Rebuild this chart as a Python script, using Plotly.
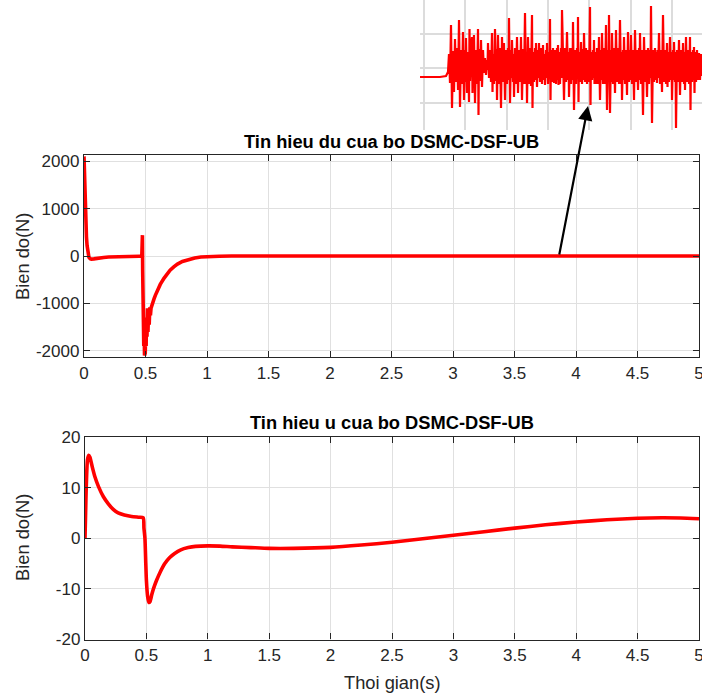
import plotly.graph_objects as go

# ---------------- data ----------------
du_t = [0, 0.005, 0.01, 0.015, 0.02, 0.025, 0.03, 0.035, 0.04, 0.05, 0.06, 0.08, 0.1, 0.13, 0.16,
        0.2, 0.25, 0.3, 0.35, 0.4, 0.45, 0.47, 0.472, 0.475, 0.477, 0.48, 0.483, 0.486, 0.489,
        0.492, 0.495, 0.498, 0.501, 0.505, 0.508, 0.512, 0.516, 0.52, 0.525, 0.53, 0.535, 0.54,
        0.545, 0.55, 0.56, 0.57, 0.58, 0.6, 0.62, 0.65, 0.68, 0.7, 0.73, 0.76, 0.8, 0.85, 0.9,
        0.95, 1.0, 1.1, 1.2, 1.5, 2, 3, 4, 5]
du_v = [2100, 1500, 1000, 650, 400, 220, 100, 20, -25, -55, -65, -60, -50, -38, -30,
        -22, -15, -10, -7, -5, -4, -4, 100, 440, -300, -1500, -900, -1900, -1400,
        -2100, -1700, -2050, -1500, -1900, -1300, -1700, -1100, -1600, -1150, -1450, -1080, -1250,
        -1100, -1050, -980, -900, -830, -700, -600, -470, -360, -300, -230, -170, -115, -70, -40,
        -22, -12, -4, -1, 0, 0, 0, 0, 0]

u_t = [0, 0.005, 0.01, 0.02, 0.03, 0.04, 0.06, 0.08, 0.11, 0.15, 0.19, 0.23, 0.27, 0.32, 0.38,
       0.44, 0.474, 0.48, 0.488, 0.495, 0.5, 0.51, 0.52, 0.53, 0.545, 0.56, 0.583, 0.61, 0.65,
       0.69, 0.73, 0.78, 0.84, 0.9, 1.0, 1.1, 1.2, 1.35, 1.5, 1.7, 2.0, 2.25, 2.5, 2.75, 3.0,
       3.25, 3.5, 3.75, 4.0, 4.25, 4.5, 4.7, 4.85, 5.0]
u_v = [0, 5, 10, 15.5, 16.4, 16, 14, 12.2, 10.2, 8.2, 6.8, 5.7, 5.0, 4.6, 4.3,
       4.15, 4.05, 2, 0, -5, -8.3, -11.5, -12.7, -12.5, -11, -9.8, -8.3, -6.8, -5,
       -3.8, -3, -2.3, -1.85, -1.6, -1.5, -1.55, -1.7, -1.85, -2.0, -2.0, -1.8, -1.35, -0.8, -0.1, 0.6,
       1.3, 2.0, 2.65, 3.2, 3.65, 3.95, 4.05, 4.0, 3.85]

# zoomed detail of the chattering du signal (inset)
inset_k = [0, 20, 26, 28, 29, 30, 31, 32, 33, 34, 35, 36, 37, 38, 39, 40, 41, 42, 43, 44, 45, 45.5,
           46, 47, 48, 49, 49.5, 50, 51, 52, 52.5, 53, 54, 55, 56, 57, 58, 58.5, 59, 60, 61, 62,
           63, 64, 65, 66, 67, 67.5, 68, 69, 70, 71, 72, 72.5, 73, 74, 75, 76, 76.5, 77, 78, 79,
           80, 81, 82, 83, 84, 85, 86, 87, 88, 88.5, 89, 90, 91, 91.5, 92, 93, 93.5, 94, 95, 96,
           97, 98, 99, 100, 101, 102, 103, 104, 105, 106, 106.5, 107, 108, 109, 110, 111, 112,
           112.5, 113, 114, 115, 115.5, 116, 117, 118, 118.5, 119, 120, 121, 122, 123, 124, 124.5,
           125, 126, 126.5, 127, 128, 129, 129.5, 130, 130.5, 131, 132, 133, 134, 135, 136, 137,
           137.5, 138, 138.5, 139, 140, 141, 141.5, 142, 143, 144, 145, 146, 147, 148, 148.5, 149,
           150, 151, 152, 152.5, 153, 154, 155, 156, 157, 157.5, 158, 158.5, 159, 160, 161, 162,
           163, 163.5, 164, 165, 166, 167, 168, 169, 170, 170.5, 171, 172, 173, 173.5, 174, 174.5,
           175, 176, 177, 178, 179, 180, 181, 181.5, 182, 183, 184, 185, 186, 187, 188, 188.5, 189,
           190, 191, 191.5, 192, 193, 194, 195, 196, 197, 198, 199, 200, 201, 201.5, 202, 203,
           203.5, 204, 205, 206, 207, 208, 209, 210, 210.5, 211, 212, 213, 214, 215, 216, 217, 218,
           219, 219.5, 220, 221, 222, 223, 224, 225, 226, 227, 228, 229, 230, 230.5, 231, 232, 233,
           234, 235, 235.5, 236, 237, 237.5, 238, 239, 240, 241, 242, 243, 244, 245, 246, 247,
           247.5, 248, 249, 250, 251, 251.5, 252, 253, 253.5, 254, 255, 255.5, 256, 257, 258, 259,
           260, 261, 262, 263, 264, 264.5, 265, 266, 267, 268, 269, 270, 270.5, 271, 272, 273,
           273.5, 274, 274.5, 275, 276, 277, 278, 279, 280, 281, 282]
inset_v = [-9, -9, -8, -4, 14, -15, 43, -40, 17, -24, 29, -14, 20, -22, 48, -39, 18, -16, 36, -32, 18, -14,
           30, -25, 16, -34, 39, -13, 20, 31, -25, 14, 33, -35, 18, -16, 39, -47, 19, -13, 28, -19,
           18, -5, 10, -7, 8, -2, 25, -10, 18, -14, 35, -24, 14, -16, 39, -13, 19, -32, 33, -16,
           20, -40, 31, -14, 25, -32, 18, -16, 20, -12, 50, -35, 18, -10, 28, -14, 14, -29, 20, -16,
           31, -25, 18, -14, 31, -32, 19, -16, 55, -16, 16, -35, 31, -16, 20, -18, 53,
           -40, 16, -14, 20, -12, 25, -19, 18, -10, 25, -14, 20, -16, 23, -12, 14,
           -17, 18, -10, 25, -16, 16, -8, 49, -32, 18, -14, 20, -15, 18, -16, 20,
           -12, 23, -17, 16, -16, 20, -10, 58, 14, -32, 20, -14, 36, -12, 16, -29,
           20, -16, 20, -12, 46, -42, 18, -16, 20, -10, 51, -34, 16, -14, 26, -16,
           19, -12, 35, -14, 20, -16, 18, -14, 61, -37, 16, -12, 18, -10, 28, -16,
           16, -16, 20, -16, 31, -32, 18, -12, 35, -16, 20, -16, 43, -42, 18, -12, 53,
           -45, 18, -14, 35, -16, 20, -25, 38, -14, 20, -16, 48, -16, 16, -32, 18,
           -12, 31, -16, 18, -27, 36, -14, 18, -12, 33, -16, 18, -32, 38, -14, 18, -22,
           20, -12, 35, -16, 18, -47, 31, -14, 18, -29, 20, -16, 18, -10, 62, -55, 18,
           -14, 20, -12, 16, -15, 18, -10, 35, -16, 18, -24, 53, -14, 18, -16, 25,
           -19, 16, -14, 31, -12, 16, -32, 18, -12, 26, -14, 16, -60, 18, -14, 28,
           -27, 18, -14, 25, -16, 16, -22, 31, -14, 18, -16, 31, -42, 16, -14, 18,
           -12, 21, -25, 16, -14, 18, -12, 15, -12, 14, -8]

x_ticks = [0, 0.5, 1, 1.5, 2, 2.5, 3, 3.5, 4, 4.5, 5]
x_ticktext = ["0", "0.5", "1", "1.5", "2", "2.5", "3", "3.5", "4", "4.5", "5"]
du_ticks = [-2000, -1000, 0, 1000, 2000]
du_ticktext = ["-2000", "-1000", "0", "1000", "2000"]
u_ticks = [-20, -10, 0, 10, 20]
u_ticktext = ["-20", "-10", "0", "10", "20"]

title_top = "Tin hieu du cua bo DSMC-DSF-UB"
title_bot = "Tin hieu u cua bo DSMC-DSF-UB"
ylabel = "Bien do(N)"
xlabel = "Thoi gian(s)"

# ---------------- figure ----------------
FONT = "Liberation Sans, Arial, Helvetica, sans-serif"
AX = "#262626"
GRID = "#e0e0e0"
RED = "#ff0000"

W, H = 702, 695
ML, MR = 84, 0
PW = W - ML - MR


def px_x(p):
    return (p - ML) / PW


def px_y(p):
    return 1 - p / H


fig = go.Figure()
fig.add_trace(go.Scatter(x=du_t, y=du_v, mode="lines", line=dict(color=RED, width=3.6),
                         xaxis="x", yaxis="y", showlegend=False, hoverinfo="skip"))
fig.add_trace(go.Scatter(x=u_t, y=u_v, mode="lines", line=dict(color=RED, width=3.6, shape="spline", smoothing=0.6),
                         xaxis="x2", yaxis="y2", showlegend=False, hoverinfo="skip"))
fig.add_trace(go.Scatter(x=inset_k, y=inset_v, mode="lines", line=dict(color=RED, width=2.2),
                         xaxis="x3", yaxis="y3", showlegend=False, hoverinfo="skip"))

common_x = dict(range=[0, 5], tickvals=x_ticks, ticktext=x_ticktext, ticks="inside", ticklen=6,
                tickwidth=1.2, tickcolor=AX, showline=True, linecolor=AX, linewidth=1.3, mirror="ticks",
                showgrid=True, gridcolor=GRID, gridwidth=1, zeroline=False, ticklabeloverflow="allow",
                tickfont=dict(family=FONT, size=17, color=AX))
common_y = dict(ticks="inside", ticklen=6, tickwidth=1.2, tickcolor=AX, showline=True, linecolor=AX,
                linewidth=1.3, mirror="ticks", showgrid=True, gridcolor=GRID, gridwidth=1, zeroline=False,
                ticklabeloverflow="allow", tickfont=dict(family=FONT, size=17, color=AX))

fig.update_layout(
    width=W, height=H,
    margin=dict(l=ML, r=MR, t=0, b=0, pad=0, autoexpand=False),
    paper_bgcolor="white", plot_bgcolor="white",
    xaxis=dict(domain=[0, px_x(699)], anchor="y", **common_x),
    yaxis=dict(domain=[px_y(357), px_y(155)], anchor="x", range=[-2130, 2130],
               tickvals=du_ticks, ticktext=du_ticktext, **common_y),
    xaxis2=dict(domain=[px_x(85), px_x(699)], anchor="y2", **common_x),
    yaxis2=dict(domain=[px_y(639.5), px_y(437)], anchor="x2", range=[-20, 20],
                tickvals=u_ticks, ticktext=u_ticktext, **common_y),
    xaxis3=dict(domain=[px_x(420), 1], anchor="y3", range=[0, 282], tick0=4, dtick=41.3,
                showticklabels=False, ticks="", showline=False, showgrid=True, gridcolor="#dcdcdc",
                gridwidth=1.5, zeroline=False),
    yaxis3=dict(domain=[px_y(130), 1], anchor="x3", range=[-62, 68], tick0=0, dtick=34.5,
                showticklabels=False, ticks="", showline=False, showgrid=True, gridcolor="#dcdcdc",
                gridwidth=1.5, zeroline=False),
)

ann = []
ann.append(dict(text="<b>%s</b>" % title_top, x=px_x(391.5), y=px_y(141), xref="paper", yref="paper",
                xanchor="center", yanchor="middle", showarrow=False,
                font=dict(family=FONT, size=18.3, color="black")))
ann.append(dict(text="<b>%s</b>" % title_bot, x=px_x(392), y=px_y(423), xref="paper", yref="paper",
                xanchor="center", yanchor="middle", showarrow=False,
                font=dict(family=FONT, size=18.3, color="black")))
for yc in (257, 538):
    ann.append(dict(text=ylabel, x=px_x(22), y=px_y(yc), xref="paper", yref="paper", textangle=-90,
                    xanchor="center", yanchor="middle", showarrow=False,
                    font=dict(family=FONT, size=18.3, color=AX)))
ann.append(dict(text=xlabel, x=px_x(392), y=px_y(682), xref="paper", yref="paper",
                xanchor="center", yanchor="middle", showarrow=False,
                font=dict(family=FONT, size=18.3, color=AX)))
# arrow from the du line (t ~ 3.87, du = 0) up to the zoomed inset
ann.append(dict(text="", x=px_x(588), y=px_y(106), xref="paper", yref="paper",
                ax=559 - 588, ay=256 - 106, axref="pixel", ayref="pixel",
                showarrow=True, arrowhead=2, arrowsize=1.3, arrowwidth=2.2, arrowcolor="black",
                standoff=0, startstandoff=0))
fig.update_layout(annotations=ann)

# remove the page's default 8px body margin so the figure fills the window exactly
fig.write_html("out.html", config={"displayModeBar": False},
               post_script="document.body.style.margin='0';document.body.style.overflow='hidden';")
